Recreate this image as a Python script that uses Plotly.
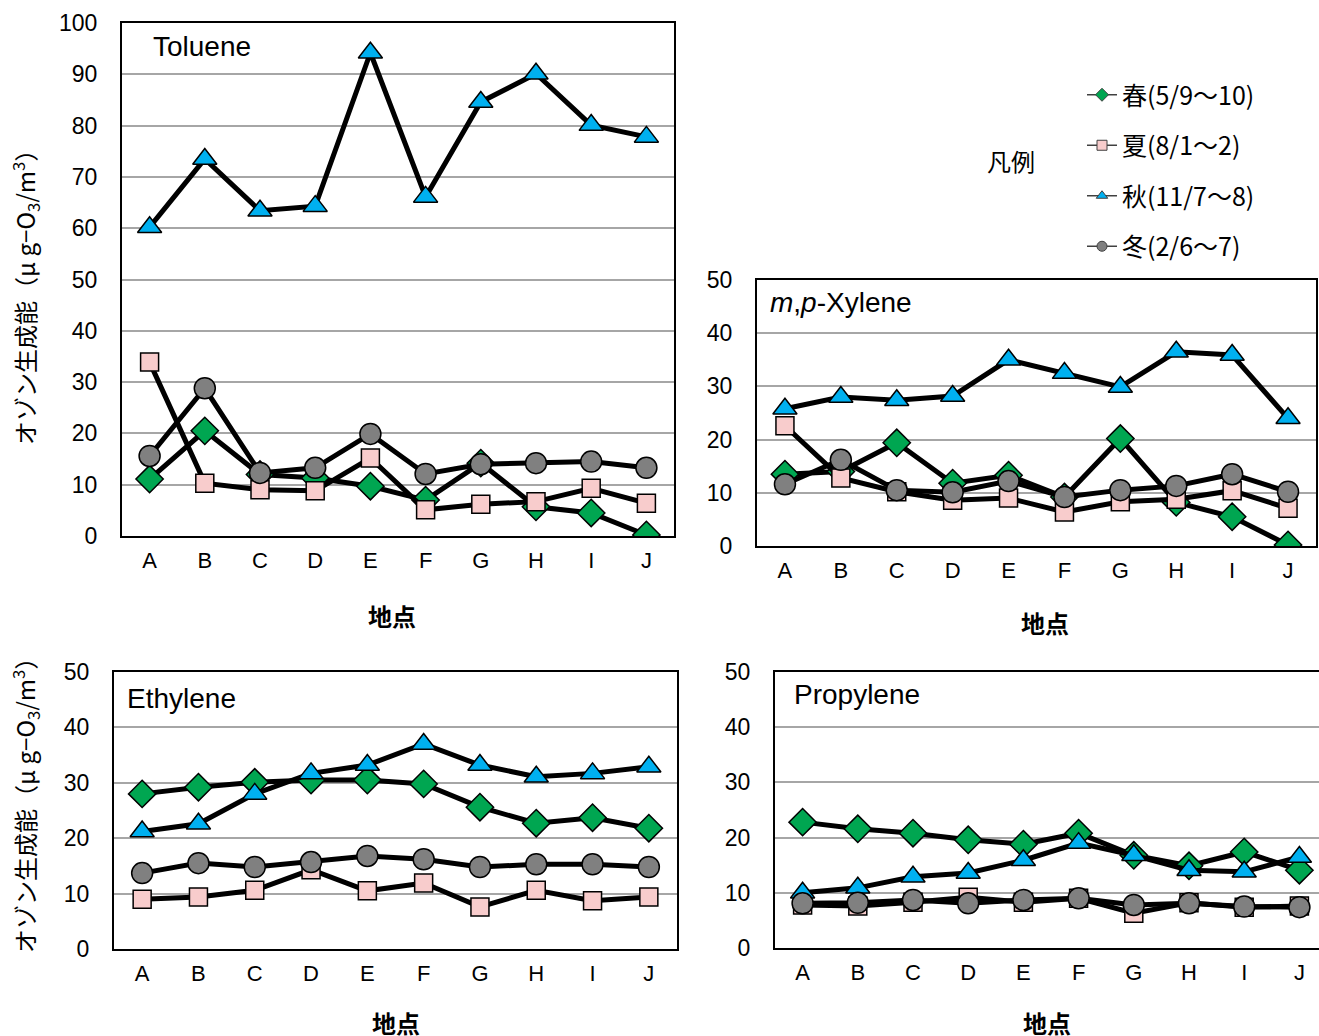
import plotly.graph_objects as go

sites = ["A", "B", "C", "D", "E", "F", "G", "H", "I", "J"]
season_names = ["春(5/9～10)", "夏(8/1～2)", "秋(11/7～8)", "冬(2/6～7)"]

# Toluene
toluene_spring = [11.1, 20.5, 12.0, 11.3, 9.7, 7.0, 14.2, 5.7, 4.5, 0.2]
toluene_summer = [33.9, 10.3, 9.0, 8.8, 15.2, 5.1, 6.2, 6.7, 9.3, 6.4]
toluene_autumn = [60.2, 73.5, 63.4, 64.3, 94.2, 66.1, 84.6, 90.1, 80.1, 77.8]
toluene_winter = [15.6, 28.8, 12.3, 13.3, 19.9, 12.1, 14.0, 14.2, 14.5, 13.3]

# m,p-Xylene
xylene_spring = [13.5, 14.0, 19.4, 11.8, 13.3, 9.2, 20.2, 8.2, 5.5, 0.2]
xylene_summer = [22.6, 12.8, 10.2, 8.6, 9.0, 6.4, 8.3, 8.8, 10.4, 7.1]
xylene_autumn = [25.8, 28.0, 27.4, 28.2, 35.0, 32.5, 29.9, 36.5, 35.9, 24.0]
xylene_winter = [11.6, 16.2, 10.5, 10.1, 12.2, 9.2, 10.5, 11.3, 13.5, 10.2]

# Ethylene
ethylene_spring = [28.0, 29.2, 30.1, 30.5, 30.5, 29.8, 25.6, 22.7, 23.7, 21.8]
ethylene_summer = [9.0, 9.4, 10.6, 14.3, 10.5, 11.9, 7.6, 10.6, 8.7, 9.4]
ethylene_autumn = [21.2, 22.6, 28.0, 31.7, 33.2, 37.0, 33.2, 31.1, 31.7, 32.9]
ethylene_winter = [13.7, 15.5, 14.8, 15.7, 16.8, 16.2, 14.8, 15.3, 15.3, 14.8]

# Propylene
propylene_spring = [22.8, 21.6, 20.8, 19.6, 18.8, 20.8, 16.8, 14.9, 17.4, 14.1]
propylene_summer = [7.8, 7.6, 8.3, 9.2, 8.3, 9.0, 6.3, 8.2, 7.4, 7.6]
propylene_autumn = [10.0, 10.9, 12.9, 13.6, 15.9, 19.0, 16.8, 14.1, 13.8, 16.5]
propylene_winter = [8.1, 8.2, 8.7, 8.1, 8.7, 9.0, 7.8, 8.1, 7.5, 7.4]

W, H = 1319, 1036
FONT = "Arial, Liberation Sans, sans-serif"
JFONT = "Noto Sans CJK JP, sans-serif"

styles = [
    dict(symbol="diamond", color="#00a651", size=21),
    dict(symbol="square", color="#f8cccc", size=18),
    dict(symbol="triangle-up", color="#00b0f0", size=21),
    dict(symbol="circle", color="#808080", size=21),
]


def px_x(p):
    return p / W


def px_y(p):
    return 1 - p / H


panels = [
    dict(name="Toluene", data=[toluene_spring, toluene_summer, toluene_autumn, toluene_winter],
         box=(122, 674, 536, 23), ymax=100, xr=[-0.5, 9.5], right=True,
         title_xy=(151, 47), xlab_xy=(392, 615)),
    dict(name="<i>m</i>,<i>p</i>-Xylene", data=[xylene_spring, xylene_summer, xylene_autumn, xylene_winter],
         box=(757, 1316, 546, 280), ymax=50, xr=[-0.5, 9.5], right=True,
         title_xy=(768, 302), xlab_xy=(1045, 622)),
    dict(name="Ethylene", data=[ethylene_spring, ethylene_summer, ethylene_autumn, ethylene_winter],
         box=(114, 677, 949, 672), ymax=50, xr=[-0.5, 9.5], right=True,
         title_xy=(125, 698), xlab_xy=(396, 1022)),
    dict(name="Propylene", data=[propylene_spring, propylene_summer, propylene_autumn, propylene_winter],
         box=(775, 1319, 948, 672), ymax=50, xr=[-0.5, 9.355], right=False,
         title_xy=(792, 694), xlab_xy=(1047, 1022)),
]

fig = go.Figure()
annotations = []

for i, p in enumerate(panels):
    n = "" if i == 0 else str(i + 1)
    x0, x1, yb, yt = p["box"]
    for s, vals in enumerate(p["data"]):
        st = styles[s]
        fig.add_trace(go.Scatter(
            x=sites, y=vals, mode="lines+markers",
            xaxis="x" + n, yaxis="y" + n, showlegend=False,
            line=dict(color="black", width=5),
            marker=dict(symbol=st["symbol"], size=st["size"], color=st["color"],
                        line=dict(color="black", width=1.5)),
            hoverinfo="x+y",
        ))
    fig.layout["xaxis" + n] = dict(
        domain=[px_x(x0), px_x(x1)], anchor="y" + n, type="category",
        categoryorder="array", categoryarray=sites, range=p["xr"],
        showline=True, linecolor="black", linewidth=2, mirror=True,
        showgrid=False, ticks="", ticklabelstandoff=4, automargin=False,
        tickfont=dict(family=FONT, size=22, color="black"),
    )
    fig.layout["yaxis" + n] = dict(
        domain=[px_y(yb), px_y(yt)], anchor="x" + n, range=[0, p["ymax"]], dtick=10,
        showline=True, linecolor="black", linewidth=2, mirror=p["right"],
        showgrid=True, gridcolor="#a6a6a6", gridwidth=2, zeroline=False,
        ticks="", ticklabelstandoff=18, automargin=False,
        tickfont=dict(family=FONT, size=23, color="black"),
    )
    tx, ty = p["title_xy"]
    annotations.append(dict(text=p["name"], x=px_x(tx), y=px_y(ty), xref="paper", yref="paper",
                            xanchor="left", yanchor="middle", showarrow=False,
                            font=dict(family=FONT, size=28, color="black")))
    lx, ly = p["xlab_xy"]
    annotations.append(dict(text="<b>地点</b>", x=px_x(lx), y=px_y(ly), xref="paper", yref="paper",
                            xanchor="center", yanchor="middle", showarrow=False,
                            font=dict(family=JFONT, size=24, color="black")))

ytitle = "オゾン生成能（μ g−O<sub>3</sub>/m<sup>3</sup>）"
for cy in (292, 800):
    annotations.append(dict(text=ytitle, x=px_x(25), y=px_y(cy), xref="paper", yref="paper",
                            xanchor="center", yanchor="middle", textangle=-90, showarrow=False,
                            font=dict(family=JFONT, size=24, color="black")))

annotations.append(dict(text="凡例", x=px_x(1011), y=px_y(160), xref="paper", yref="paper",
                        xanchor="center", yanchor="middle", showarrow=False,
                        font=dict(family=JFONT, size=24, color="black")))

# legend entries (thin line + small marker like the original)
for s, name in enumerate(season_names):
    st = styles[s]
    fig.add_trace(go.Scatter(
        x=[None], y=[None], mode="lines+markers", name=name, legendgroup=name,
        line=dict(color="#404040", width=1.5),
        marker=dict(symbol=st["symbol"], size=10, color=st["color"],
                    line=dict(color="#404040", width=1)),
    ))

fig.update_layout(
    width=W, height=H, margin=dict(l=0, r=0, t=0, b=0, autoexpand=False),
    paper_bgcolor="white", plot_bgcolor="white",
    annotations=annotations,
    legend=dict(x=px_x(1082), y=px_y(72), xanchor="left", yanchor="top",
                font=dict(family=JFONT, size=25, color="black"),
                tracegroupgap=15, itemwidth=30, bgcolor="rgba(0,0,0,0)"),
)

fig.write_html("out.html", config={"displayModeBar": False},
               post_script="document.body.style.margin='0';document.body.style.overflow='hidden';")
